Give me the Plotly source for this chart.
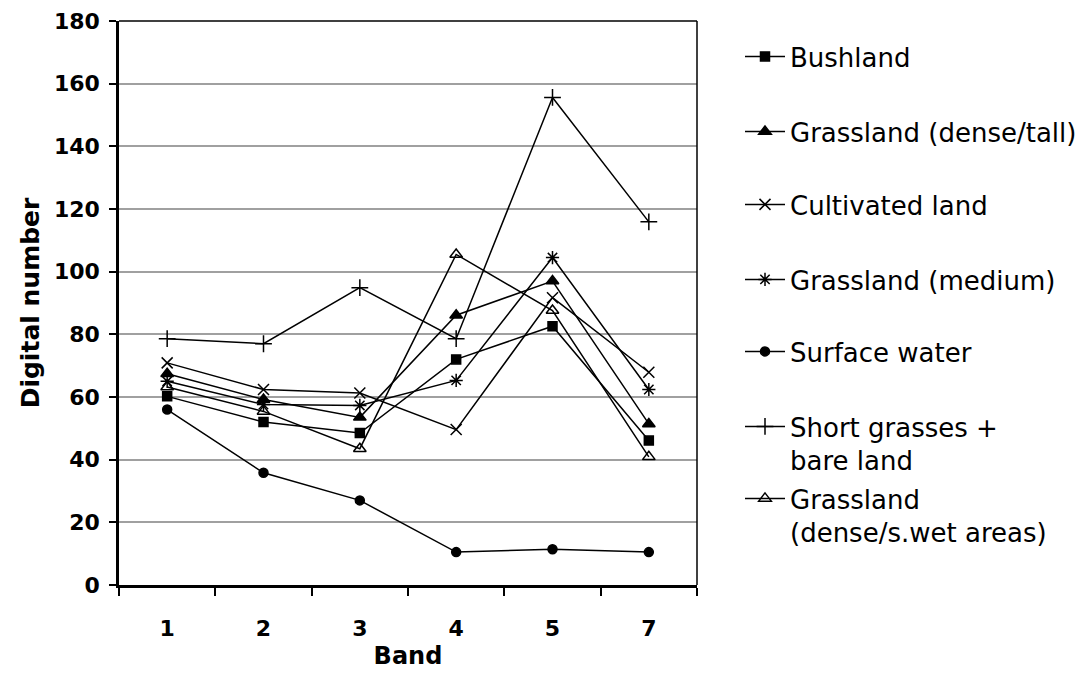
import plotly.graph_objects as go

bands = ["1", "2", "3", "4", "5", "7"]

bushland = [60.2, 52.0, 48.5, 72.0, 82.6, 46.1]
grass_dense_tall = [67.4, 59.2, 53.5, 86.1, 97.0, 51.4]
cultivated = [70.9, 62.4, 61.3, 49.6, 91.7, 67.9]
grass_medium = [65.0, 57.6, 57.3, 65.3, 104.5, 62.4]
surface_water = [56.0, 35.8, 27.0, 10.5, 11.4, 10.5]
short_grass = [78.6, 77.0, 94.9, 78.6, 155.6, 115.9]
grass_wet = [63.2, 55.4, 43.5, 105.5, 87.6, 40.9]

names = [
    "Bushland",
    "Grassland (dense/tall)",
    "Cultivated land",
    "Grassland (medium)",
    "Surface water",
    "Short grasses +<br>bare land",
    "Grassland<br>(dense/s.wet areas)",
]
series = [bushland, grass_dense_tall, cultivated, grass_medium,
          surface_water, short_grass, grass_wet]
symbols = ["square", "triangle-up", "x-thin", "asterisk",
           "circle", "cross-thin", "triangle-up-open"]
sizes = [9, 11, 11, 11, 9, 12, 11]
legend_centers = [57, 132, 205, 280, 352, 427, 499]

FONT = "DejaVu Sans"
W, H = 1087, 686

fig = go.Figure()
for i, (nm, ys, sym, sz) in enumerate(zip(names, series, symbols, sizes)):
    lg = "legend" if i == 0 else f"legend{i+1}"
    fig.add_trace(go.Scatter(
        x=bands, y=ys, name=nm, mode="lines+markers",
        line=dict(color="black", width=1.5),
        marker=dict(symbol=sym, size=sz, color="black",
                    line=dict(color="black", width=1.5)),
        legend=lg,
    ))

layout_legends = {}
for i, yc in enumerate(legend_centers):
    key = "legend" if i == 0 else f"legend{i+1}"
    layout_legends[key] = dict(
        xref="container", yref="container",
        x=740 / W, y=1 - (yc - 24) / H,
        xanchor="left", yanchor="top",
        valign="top",
        bgcolor="rgba(0,0,0,0)",
        font=dict(family=FONT, size=26, color="black"),
        itemwidth=40,
        tracegroupgap=0,
    )

fig.update_layout(
    width=W, height=H,
    paper_bgcolor="white", plot_bgcolor="white",
    margin=dict(l=119, r=390, t=21, b=101),
    showlegend=True,
    **layout_legends,
    xaxis=dict(
        type="category", range=[-0.5, 5.5], automargin=False,
        showline=True, linecolor="black", linewidth=2.5,
        ticks="outside", tickson="boundaries", ticklen=8,
        tickwidth=2, tickcolor="black",
        showgrid=False, zeroline=False,
        tickfont=dict(family=FONT, size=22, color="black", weight="bold"),
        ticklabelstandoff=22,
        title=dict(text="Band", standoff=8,
                   font=dict(family=FONT, size=24, color="black", weight="bold")),
    ),
    yaxis=dict(
        range=[0, 180], dtick=20, tick0=0, automargin=False,
        showline=True, linecolor="black", linewidth=2.5,
        ticks="outside", ticklen=7, tickwidth=2, tickcolor="black",
        showgrid=True, gridcolor="#a0a0a0", gridwidth=1.5,
        zeroline=False,
        tickfont=dict(family=FONT, size=22, color="black", weight="bold"),
        ticklabelstandoff=5,
        title=dict(text="Digital number", standoff=8,
                   font=dict(family=FONT, size=25, color="black", weight="bold")),
    ),
    shapes=[
        dict(type="line", xref="paper", yref="paper", x0=0, x1=1, y0=1, y1=1,
             line=dict(color="black", width=1.5)),
        dict(type="line", xref="paper", yref="paper", x0=1, x1=1, y0=0, y1=1,
             line=dict(color="black", width=1.5)),
    ],
)

fig.write_html(
    "out.html",
    config={"displayModeBar": False},
    post_script="document.body.style.margin='0';document.body.style.overflow='hidden';",
)
